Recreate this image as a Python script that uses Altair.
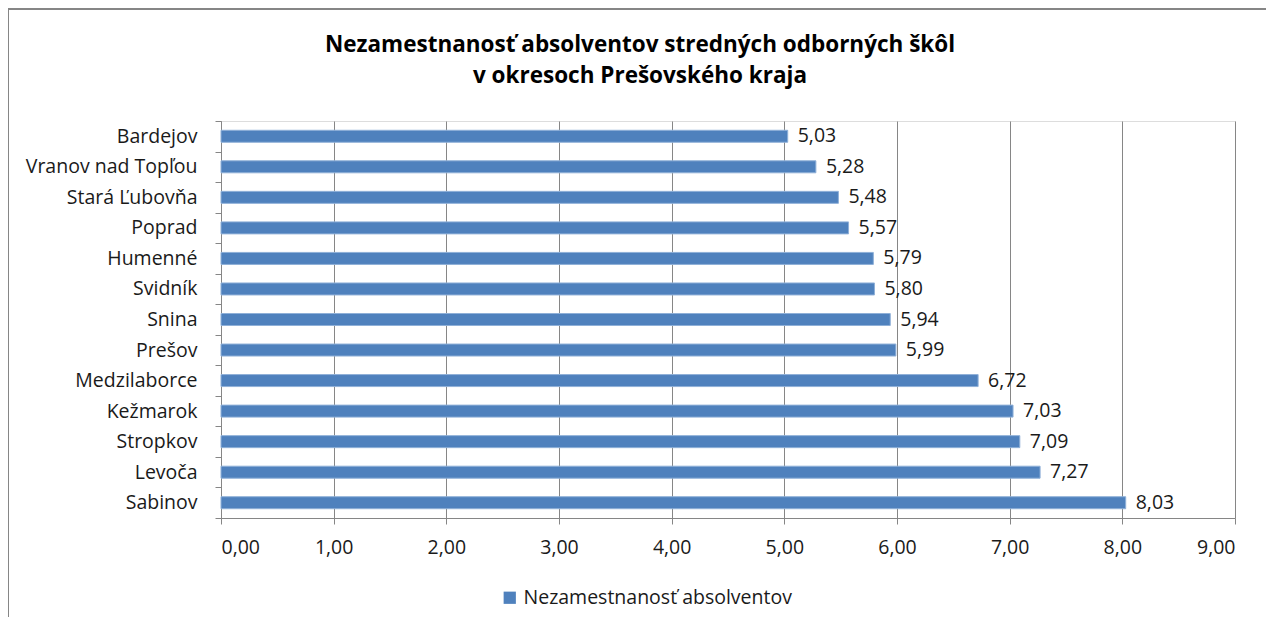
import altair as alt
import pandas as pd

categories = ["Bardejov", "Vranov nad Topľou", "Stará Ľubovňa", "Poprad", "Humenné",
              "Svidník", "Snina", "Prešov", "Medzilaborce", "Kežmarok", "Stropkov",
              "Levoča", "Sabinov"]
values = [5.03, 5.28, 5.48, 5.57, 5.79, 5.80, 5.94, 5.99, 6.72, 7.03, 7.09, 7.27, 8.03]
series_name = "Nezamestnanosť absolventov"
title_lines = ["Nezamestnanosť absolventov stredných odborných škôl",
               "v okresoch Prešovského kraja"]
x_ticks = [0, 1, 2, 3, 4, 5, 6, 7, 8, 9]

FONT = "Open Sans"
FS = 19.5
W, H = 1014, 397

df = pd.DataFrame({"okres": categories, "hodnota": values, "séria": series_name})

y_enc = alt.Y("okres:N", sort=categories,
              scale=alt.Scale(paddingInner=0, paddingOuter=0),
              axis=alt.Axis(title=None, tickBand="extent", domainColor="#868686",
                            tickColor="#868686", tickSize=6, labelPadding=18,
                            labelFont=FONT, labelFontSize=FS, labelColor="#1a1a1a",
                            labelLimit=0, grid=False))
x_enc = alt.X("hodnota:Q", scale=alt.Scale(domain=[0, 9], nice=False),
              axis=alt.Axis(title=None, values=x_ticks,
                            labelExpr="replace(format(datum.value, '.2f'), '.', ',')",
                            grid=True, gridColor="#868686", gridWidth=1,
                            domainColor="#868686", tickColor="#868686", tickSize=6,
                            labelPadding=14, labelFont=FONT, labelFontSize=FS,
                            labelColor="#1a1a1a"))

bars = alt.Chart(df).mark_bar(size=12, stroke="#8fb0d8", strokeWidth=1).encode(
    x=x_enc,
    y=y_enc,
    color=alt.Color("séria:N", scale=alt.Scale(range=["#4F81BD"]),
                    legend=alt.Legend(title=None, orient="none", legendX=279, legendY=467,
                                      symbolType="square", symbolSize=150,
                                      symbolStrokeWidth=0, labelFont=FONT,
                                      labelFontSize=FS, labelColor="#1a1a1a",
                                      labelOffset=4, labelLimit=0, padding=0)),
)

labels = alt.Chart(df).transform_calculate(
    lbl="replace(format(datum.hodnota, '.2f'), '.', ',')"
).mark_text(align="left", baseline="middle", dx=10, font=FONT, fontSize=FS,
            color="#1a1a1a").encode(
    x="hodnota:Q",
    y=alt.Y("okres:N", sort=categories),
    text="lbl:N",
)

title1 = alt.Chart(pd.DataFrame({"t": [title_lines[0]]})).mark_text(
    align="center", baseline="middle", font=FONT, fontSize=22.5, fontWeight="bold",
    color="#000000").encode(text="t:N", x=alt.value(419), y=alt.value(-76))
title2 = alt.Chart(pd.DataFrame({"t": [title_lines[1]]})).mark_text(
    align="center", baseline="middle", font=FONT, fontSize=22.5, fontWeight="bold",
    color="#000000").encode(text="t:N", x=alt.value(419), y=alt.value(-45))

one = pd.DataFrame({"a": [0]})
border_top = alt.Chart(one).mark_rule(color="#868686", strokeWidth=2).encode(
    x=alt.value(-213), x2=alt.value(W + 60), y=alt.value(-112))
border_left = alt.Chart(one).mark_rule(color="#868686", strokeWidth=2).encode(
    x=alt.value(-213), y=alt.value(-112), y2=alt.value(H + 120))

chart = alt.layer(bars, labels, title1, title2, border_top, border_left).properties(
    width=W, height=H,
    autosize=alt.AutoSizeParams(type="none"),
    padding={"left": 213, "top": 113, "right": 31, "bottom": 99},
).configure_view(stroke=None).configure(background="white")

chart.save("out.html", embed_options={"renderer": "svg", "actions": False})
